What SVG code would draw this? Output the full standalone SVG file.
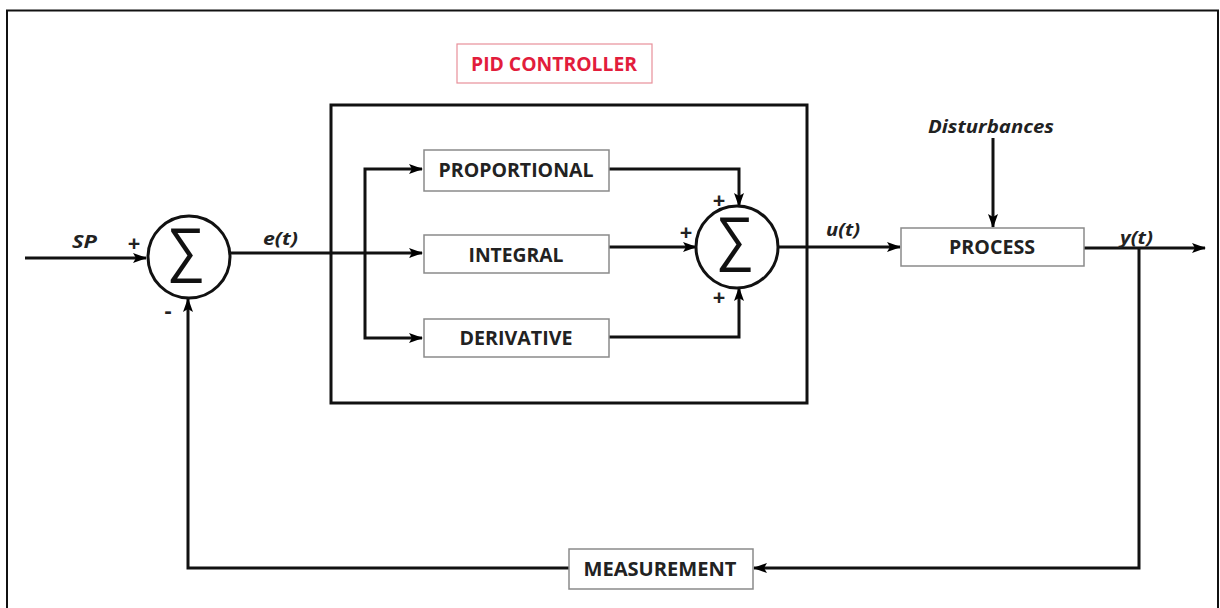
<svg xmlns="http://www.w3.org/2000/svg" width="1220" height="608" viewBox="0 0 1220 608">
<defs>
<marker id="arr" markerUnits="userSpaceOnUse" markerWidth="14" markerHeight="12" viewBox="0 0 14 12" refX="13" refY="6" orient="auto">
<path d="M0,1 L14,6 L0,11 L3,6 Z" fill="#000"/>
</marker>
<style>
.ln{fill:none;stroke:#111;stroke-width:3;}
.box{fill:#fff;stroke:#8a8a8a;stroke-width:1.5;}
.lbl{font-family:"Open Sans","Noto Sans",sans-serif;font-weight:bold;font-size:19px;fill:#222;text-anchor:middle;}
.it{font-family:"Open Sans","Noto Sans",sans-serif;font-weight:bold;font-style:italic;font-size:18px;fill:#222;}
.sig{font-family:"DejaVu Sans",sans-serif;font-weight:200;font-size:54px;fill:#111;text-anchor:middle;}
.pm{font-family:"Open Sans","Noto Sans",sans-serif;font-weight:bold;font-size:22px;fill:#222;text-anchor:middle;}
</style>
</defs>
<rect width="1220" height="608" fill="#fff"/>
<path d="M7,612 V10.5 H1218 V612" fill="none" stroke="#111" stroke-width="2"/>

<g id="pid-label">
<rect x="457" y="44" width="195" height="39" fill="#fff" stroke="#e8909a" stroke-width="1.2"/>
<text x="554" y="71" class="lbl" style="fill:#e21d3c;font-size:20px" textLength="166" lengthAdjust="spacingAndGlyphs">PID CONTROLLER</text>
</g>

<g id="pid-controller">
<rect x="331" y="105" width="476" height="298" fill="none" stroke="#111" stroke-width="3"/>
</g>

<g id="connectors">
<path class="ln" d="M25,258 H146" marker-end="url(#arr)"/>
<path class="ln" d="M230,253 H422" marker-end="url(#arr)"/>
<path class="ln" d="M365,253 V169 H422" marker-end="url(#arr)"/>
<path class="ln" d="M365,253 V338 H422" marker-end="url(#arr)"/>
<path class="ln" d="M609,169 H739 V206" marker-end="url(#arr)"/>
<path class="ln" d="M609,247 H696" marker-end="url(#arr)"/>
<path class="ln" d="M609,337 H739 V288" marker-end="url(#arr)"/>
<path class="ln" d="M779,247 H900" marker-end="url(#arr)"/>
<path class="ln" d="M993,138 V227" marker-end="url(#arr)"/>
<path class="ln" d="M1084,248 H1205" marker-end="url(#arr)"/>
<path class="ln" d="M1139,248 V568 H754" marker-end="url(#arr)"/>
<path class="ln" d="M569,568 H188 V299" marker-end="url(#arr)"/>
</g>

<g id="sum1">
<circle cx="189" cy="257" r="41" fill="#fff" stroke="#111" stroke-width="3"/>
<text class="sig" transform="translate(186,270) scale(1,1.12)">∑</text>
<text x="134" y="251" class="pm">+</text>
<text x="168" y="318" class="pm">-</text>
</g>

<g id="sum2">
<circle cx="737" cy="247" r="41" fill="#fff" stroke="#111" stroke-width="3"/>
<text class="sig" transform="translate(735,259) scale(1,1.12)">∑</text>
<text x="719" y="208" class="pm">+</text>
<text x="686" y="240" class="pm">+</text>
<text x="719" y="305" class="pm">+</text>
</g>

<g id="proportional">
<rect class="box" x="424" y="150" width="185" height="41"/>
<text x="516" y="177" class="lbl" textLength="155" lengthAdjust="spacingAndGlyphs">PROPORTIONAL</text>
</g>
<g id="integral">
<rect class="box" x="424" y="235" width="185" height="38"/>
<text x="516" y="262" class="lbl" textLength="95" lengthAdjust="spacingAndGlyphs">INTEGRAL</text>
</g>
<g id="derivative">
<rect class="box" x="424" y="319" width="185" height="38"/>
<text x="516" y="345" class="lbl" textLength="113" lengthAdjust="spacingAndGlyphs">DERIVATIVE</text>
</g>
<g id="process">
<rect class="box" x="901" y="228" width="183" height="38"/>
<text x="992" y="254" class="lbl" textLength="86" lengthAdjust="spacingAndGlyphs">PROCESS</text>
</g>
<g id="measurement">
<rect class="box" x="569" y="549" width="184" height="40"/>
<text x="660" y="576" class="lbl" textLength="153" lengthAdjust="spacingAndGlyphs">MEASUREMENT</text>
</g>

<g id="signal-labels">
<text x="72" y="248" class="it" textLength="25" lengthAdjust="spacingAndGlyphs">SP</text>
<text x="263" y="245" class="it" textLength="35" lengthAdjust="spacingAndGlyphs">e(t)</text>
<text x="826" y="236" class="it" textLength="34" lengthAdjust="spacingAndGlyphs">u(t)</text>
<text x="1120" y="244" class="it" textLength="33" lengthAdjust="spacingAndGlyphs">y(t)</text>
<text x="928" y="133" class="it" textLength="126" lengthAdjust="spacingAndGlyphs">Disturbances</text>
</g>
</svg>
